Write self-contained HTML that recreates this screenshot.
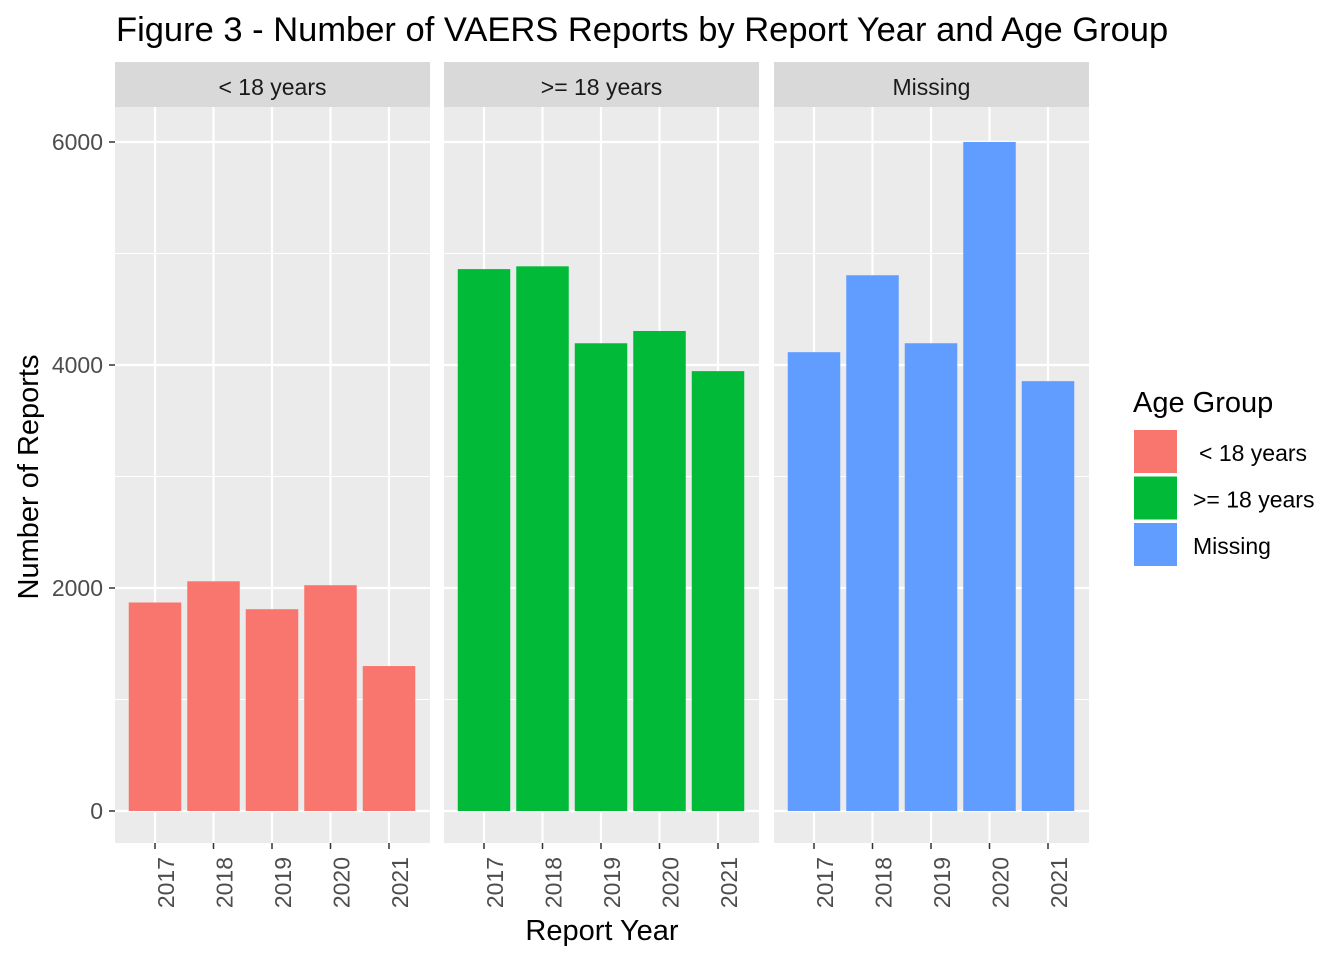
<!DOCTYPE html>
<html><head><meta charset="utf-8"><style>
body{margin:0;background:#fff;}
svg{font-family:"Liberation Sans",Arial,sans-serif;}
</style></head><body>
<svg id="chart" width="1344" height="960" xmlns="http://www.w3.org/2000/svg">
<text x="116" y="41" font-size="34.5" fill="#000">Figure 3 - Number of VAERS Reports by Report Year and Age Group</text>
<text transform="translate(38,477) rotate(-90)" text-anchor="middle" font-size="29" fill="#000">Number of Reports</text>
<text x="602" y="940" text-anchor="middle" font-size="29" fill="#000">Report Year</text>
<g id="panels"></g>
<g>
<text x="1133" y="412" font-size="29" fill="#000">Age Group</text>
<g id="legend"></g>
</g>
</svg>
<script>
const years = ["2017","2018","2019","2020","2021"];
const groups = ["< 18 years", ">= 18 years", "Missing"];
const colors = ["#F8766D", "#00BA38", "#619CFF"];
const under18 = [1870, 2060, 1810, 2025, 1300];
const over18 = [4860, 4885, 4195, 4305, 3945];
const missing = [4115, 4805, 4195, 6000, 3855];
const yTicks = [0, 2000, 4000, 6000];
const yMinor = [1000, 3000, 5000];
const series = [under18, over18, missing];

const NS = "http://www.w3.org/2000/svg";
const panelsG = document.getElementById('panels');
const yTop = 107, yBot = 843;
const y0px = 811, pxPerUnit = (811 - 142) / 6000;
function y(v){ return y0px - v * pxPerUnit; }
const panelX = [115, 444, 774], panelW = 315;
const step = 58.5, bw = 52.5;
function xc(p, i){ return panelX[p] + 40 + i * step; }
function mk(tag, attrs, parent){ const e = document.createElementNS(NS, tag); for (const k in attrs) e.setAttribute(k, attrs[k]); parent.appendChild(e); return e; }

groups.forEach((g, p) => {
  const pg = mk('g', {}, panelsG);
  
  
  const bg = mk('rect', {x: panelX[p], y: yTop, width: panelW, height: yBot - yTop, fill: '#EBEBEB'}, pg);
  
  
  yMinor.forEach(v => { mk('line', {x1: panelX[p], x2: panelX[p] + panelW, y1: y(v), y2: y(v), stroke: '#fff', 'stroke-width': 1}, pg); });
  yTicks.forEach(v => { mk('line', {x1: panelX[p], x2: panelX[p] + panelW, y1: y(v), y2: y(v), stroke: '#fff', 'stroke-width': 2.2}, pg); });
  years.forEach((yr, i) => {
    mk('line', {x1: xc(p, i), x2: xc(p, i), y1: yTop, y2: yBot, stroke: '#fff', 'stroke-width': 2.2}, pg);
  });
  series[p].forEach((v, i) => {
    const r = mk('rect', {x: xc(p, i) - bw / 2, y: y(v), width: bw, height: y(0) - y(v), fill: colors[p]}, pg);
    
    
  });
  const strip = mk('rect', {x: panelX[p], y: 62, width: panelW, height: 45, fill: '#D9D9D9'}, pg);
  
  
  const st = mk('text', {x: panelX[p] + panelW / 2, y: 95, 'text-anchor': 'middle', 'font-size': 23, fill: '#1A1A1A'}, pg);
  st.textContent = g;
  
  
  years.forEach((yr, i) => {
    mk('line', {x1: xc(p, i), x2: xc(p, i), y1: yBot, y2: yBot + 6, stroke: '#333', 'stroke-width': 1.5}, pg);
    const t = mk('text', {transform: `translate(${xc(p, i) + 19},857) rotate(-90)`, 'text-anchor': 'end', 'font-size': 23, fill: '#4D4D4D'}, pg);
    t.textContent = yr;
    
    
  });
});
yTicks.forEach(v => {
  mk('line', {x1: 109, x2: 115, y1: y(v), y2: y(v), stroke: '#333', 'stroke-width': 1.5}, panelsG);
  const t = mk('text', {x: 103, y: y(v) + 8, 'text-anchor': 'end', 'font-size': 23, fill: '#4D4D4D'}, panelsG);
  t.textContent = v;
  
  
});
const lg = document.getElementById('legend');
const legLabels = [" < 18 years", ">= 18 years", "Missing"];
groups.forEach((g, i) => {
  const ky = 430 + i * 46.5;
  const k = mk('rect', {x: 1134, y: ky, width: 43, height: 43, fill: colors[i]}, lg);
  
  
  const t = mk('text', {x: i === 0 ? 1199 : 1193, y: ky + 31, 'font-size': 23, fill: '#000'}, lg);
  t.textContent = legLabels[i].trim();
  
  
});
</script>
</body></html>
